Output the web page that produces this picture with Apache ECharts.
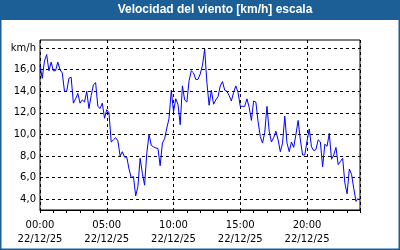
<!DOCTYPE html>
<html>
<head>
<meta charset="utf-8">
<script src="https://cdn.jsdelivr.net/npm/echarts@6/dist/echarts.min.js"></script>
<style>
  html, body { margin: 0; padding: 0; background: #fff; }
  #chart { width: 400px; height: 250px; }
</style>
</head>
<body>
<div id="chart"></div>
<script>
// velocidad del viento, una muestra cada 10 minutos desde las 00:00
const stepMin = 10;
const speed = [
  16.4, 15.2, 16.8, 17.4, 15.9, 16.7, 15.9, 15.9, 16.7, 16.0, 15.7, 14.0,
  14.0, 15.2, 15.3, 12.9, 13.3, 13.8, 12.9, 13.2, 13.0, 14.0, 12.4, 13.6,
  14.6, 14.8, 12.6, 12.4, 12.9, 11.5, 12.3, 12.0, 9.3, 9.5, 9.7, 9.4,
  8.0, 8.4, 7.9, 7.9, 6.8, 6.0, 6.1, 4.3, 5.2, 7.8, 6.4, 5.3,
  8.3, 10.0, 9.0, 8.85, 8.75, 8.7, 7.1, 9.2, 9.6, 10.6, 11.5, 14.1,
  12.1, 13.3, 12.8, 10.9, 14.5, 13.2, 13.0, 15.0, 15.9, 15.7, 15.1, 15.1,
  15.6, 16.4, 17.9, 14.8, 12.7, 14.1, 12.8, 13.2, 13.5, 14.5, 14.9, 14.1,
  14.0, 13.6, 13.1, 13.9, 14.5, 13.9, 12.6, 12.6, 12.6, 13.3, 12.5, 11.3,
  13.1, 13.0, 11.2, 9.8, 9.2, 10.2, 12.6, 10.3, 9.3, 9.7, 10.3, 9.5,
  8.4, 9.2, 11.7, 9.2, 8.4, 9.3, 8.8, 10.0, 11.3, 9.5, 8.1, 8.1,
  9.4, 10.5, 8.85, 8.5, 8.6, 9.5, 9.3, 7.0, 9.1, 8.9, 10.1, 7.7,
  8.1, 8.8, 7.2, 7.5, 7.8, 5.5, 4.5, 6.8, 6.3, 5.0, 3.8, 4.1
];
const dateLabel = "22/12/25";
const yTicks = [4, 6, 8, 10, 12, 14, 16, 18];
const yUnit = "km/h";
const titleText = "Velocidad del viento [km/h] escala";

const font = "DejaVu Sans";
const blue = "#1c5f96";

const chart = echarts.init(document.getElementById("chart"));

const hh = m => String(Math.floor(m / 60)).padStart(2, "0") + ":" + String(m % 60).padStart(2, "0");

chart.setOption({
  animation: false,
  backgroundColor: "#fff",
  graphic: [
    { type: "rect", shape: { x: 0, y: 0, width: 400, height: 20 }, style: { fill: blue } },
    { type: "rect", shape: { x: 0.5, y: 0.5, width: 399, height: 249 }, style: { fill: null, stroke: blue, lineWidth: 2 } },
    {
      type: "text", x: 215, y: 10,
      style: {
        text: titleText, fill: "#fff", font: "bold 12px 'Liberation Sans'",
        textAlign: "center", textVerticalAlign: "middle"
      }
    }
  ],
  grid: {
    left: 40, right: 40, top: 40, bottom: 40,
    show: true, borderColor: "#000", borderWidth: 1, backgroundColor: "#fff"
  },
  xAxis: [
    {
      type: "value", min: 0, max: 1438, interval: 60,
      axisLine: { lineStyle: { color: "#000" } },
      axisTick: { length: 3, lineStyle: { color: "#000" } },
      axisLabel: { show: false },
      splitLine: { show: false }
    },
    {
      type: "value", position: "bottom", min: 0, max: 1438, interval: 300,
      axisLine: { show: false },
      axisTick: { show: false },
      axisLabel: {
        showMaxLabel: false, margin: 8, color: "#000",
        fontFamily: font, fontSize: 10, lineHeight: 14,
        formatter: v => hh(v) + "\n" + dateLabel
      },
      splitLine: { show: true, lineStyle: { color: "#000", type: [3, 3], width: 1 } }
    }
  ],
  yAxis: {
    type: "value", min: 3, max: 18.75,
    axisLine: { show: false },
    axisTick: { show: false, customValues: yTicks },
    axisLabel: {
      customValues: yTicks, color: "#000", fontFamily: font, fontSize: 10, margin: 4,
      formatter: v => v === 18 ? yUnit : v.toFixed(1).replace(".", ",")
    },
    splitLine: { show: true, lineStyle: { color: "#000", type: [3, 3], width: 1 } }
  },
  series: [{
    type: "line",
    xAxisIndex: 0,
    data: speed.map((v, i) => [i * stepMin, v]),
    showSymbol: false,
    lineStyle: { color: "#0000ff", width: 1 },
    z: 3
  }]
});
</script>
</body>
</html>
